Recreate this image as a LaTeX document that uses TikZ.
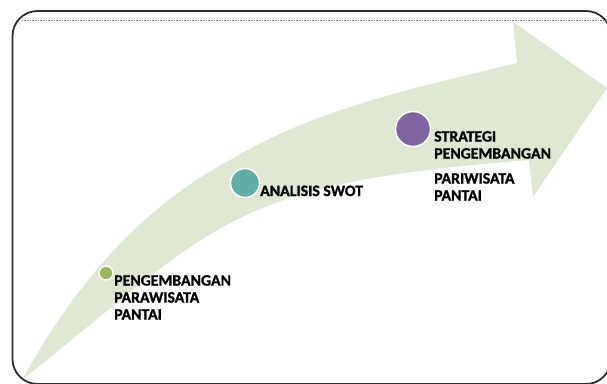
\documentclass[tikz,border=0pt]{standalone}
\usepackage{fontspec}
\setmainfont{Carlito}[BoldFeatures={FakeBold=1.2}]
\usepackage{tikz}
\definecolor{arrowgreen}{RGB}{222,231,209}
\definecolor{framegray}{RGB}{45,45,45}
\definecolor{stepgreen}{RGB}{155,187,89}
\definecolor{stepteal}{RGB}{94,174,166}
\definecolor{steppurple}{RGB}{128,100,162}

\begin{document}
\begin{tikzpicture}[x=1pt, y=-1pt,
    milestone/.style ={circle, draw=white, line width=1.5pt, inner sep=0pt},
    caption/.style ={anchor=north west, inner sep=0pt, align=left,
      font=\bfseries\fontsize{15.8}{17}\selectfont}]
   \clip (0,0) rectangle (607,383);
   \fill[arrowgreen] (22,380) .. controls (89.5,258.5) and (160,198) .. (230,160)
     .. controls (320,106) and (427,85.5) .. (517,63)
     -- (513,22) -- (607,88) -- (533,197) -- (529,160)
     .. controls (229,184) and (222,220) .. (22,380) -- cycle;
   \draw[framegray, line width=1.8pt, rounded corners=25pt] (12.5,11) rectangle (611,384);
   \draw[gray, densely dotted, line width=0.6pt] (22,20.5) -- (607,20.5);

   \node[milestone, fill=stepgreen, minimum size=14pt] (A) at (106,273) {};
   \node[milestone, fill=stepteal, minimum size=29pt] (B) at (245,183) {};
   \node[milestone, fill=steppurple, minimum size=35pt] (C) at (413,129) {};

   \node[caption] (a) at (114,275) {PENGEMBANGAN\\PARAWISATA\\PANTAI};
   \node[caption, anchor=base west] (b) at (260,196) {ANALISIS SWOT};
   \node[caption] (c) at (434,131) {STRATEGI\\PENGEMBANGAN\\[8pt]PARIWISATA\\PANTAI};
\end{tikzpicture}
\end{document}
